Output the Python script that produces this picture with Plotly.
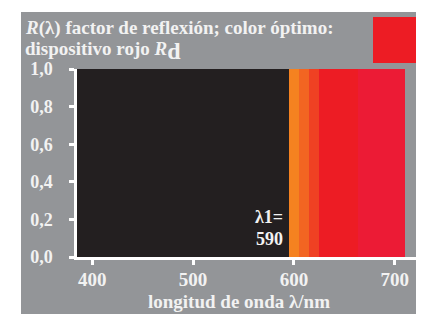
import plotly.graph_objects as go

# Data
band_start = [385, 595, 605, 615, 625, 664]
band_end = [595, 605, 615, 625, 664, 710]
band_reflect = [1.0, 1.0, 1.0, 1.0, 1.0, 1.0]
band_colors = ["#231f20", "#f58220", "#f26522", "#ef4123", "#ed1c24", "#ec1b35"]
x_ticks = [400, 500, 600, 700]
y_ticks = [0.0, 0.2, 0.4, 0.6, 0.8, 1.0]
y_tick_labels = ["0,0", "0,2", "0,4", "0,6", "0,8", "1,0"]
lambda1 = 590

# page body has an 8px margin: figure drawn at offset (8, 8)
OFF = 8
W, H = 424 - OFF, 316 - OFF
ml, mr, mt, mb = 77 - OFF, 6, 69 - OFF, 59


def px(xp):
    return (xp - OFF - ml) / (W - ml - mr)


def py(yp):
    return (H - mb - (yp - OFF)) / (H - mt - mb)


fig = go.Figure()
fig.add_trace(go.Bar(
    x=[(s + e) / 2 for s, e in zip(band_start, band_end)],
    y=band_reflect,
    width=[e - s for s, e in zip(band_start, band_end)],
    marker=dict(color=band_colors, line=dict(width=0)),
    hoverinfo="skip",
))

font_serif = "Liberation Serif"
txt = "#f2f2f2"

fig.update_layout(
    width=W, height=H,
    margin=dict(l=ml, r=mr, t=mt, b=mb, pad=0),
    paper_bgcolor="white",
    plot_bgcolor="#939598",
    showlegend=False,
    bargap=0,
    font=dict(family=font_serif, color=txt, size=19),
    xaxis=dict(
        range=[385, 723], tickvals=x_ticks, ticktext=[str(v) for v in x_ticks],
        showline=True, linecolor="white", linewidth=2.5,
        ticks="outside", tickcolor="white", tickwidth=2.5, ticklen=5,
        showgrid=False, zeroline=False, automargin=False,
        tickfont=dict(family=font_serif, size=19, color=txt, weight="bold"),
        ticklabelstandoff=-2,
    ),
    yaxis=dict(
        range=[0, 1], tickvals=y_ticks, ticktext=y_tick_labels,
        showline=True, linecolor="white", linewidth=2.5,
        ticks="outside", tickcolor="white", tickwidth=2.5, ticklen=5,
        showgrid=False, zeroline=False, automargin=False,
        tickfont=dict(family=font_serif, size=18, color=txt, weight="bold"),
        ticklabelstandoff=13,
    ),
)

# gray panel background
fig.add_shape(type="rect", xref="paper", yref="paper", layer="below",
              x0=px(21), x1=px(430), y0=py(314), y1=py(12),
              fillcolor="#939598", line=dict(width=0))
# red swatch
fig.add_shape(type="rect", xref="paper", yref="paper",
              x0=px(373), x1=px(418), y0=py(63), y1=py(17),
              fillcolor="#ed1c24", line=dict(width=0))

fig.add_annotation(xref="paper", yref="paper", x=px(23), y=py(28), xanchor="left", yanchor="middle",
                   text="<b><i>R</i>(λ) factor de reflexión; color óptimo:</b>", showarrow=False,
                   font=dict(family=font_serif, size=19, color=txt))
fig.add_annotation(xref="paper", yref="paper", x=px(23), y=py(51), xanchor="left", yanchor="middle",
                   text="<b>dispositivo rojo <i>R</i><sub><span style='font-size:24px'>d</span></sub></b>",
                   showarrow=False,
                   font=dict(family=font_serif, size=19, color=txt))
fig.add_annotation(xref="paper", yref="paper", x=px(239), y=py(301), xanchor="center", yanchor="middle",
                   text="<b>longitud de onda λ/nm</b>", showarrow=False,
                   font=dict(family=font_serif, size=19, color=txt))
fig.add_annotation(xref="paper", yref="paper", x=px(285), y=py(217), xanchor="right", yanchor="middle",
                   text="<b>λ1=</b>", showarrow=False,
                   font=dict(family=font_serif, size=18, color=txt))
fig.add_annotation(xref="paper", yref="paper", x=px(285), y=py(239), xanchor="right", yanchor="middle",
                   text="<b>%d</b>" % lambda1, showarrow=False,
                   font=dict(family=font_serif, size=18, color=txt))

fig.write_html("out.html")
